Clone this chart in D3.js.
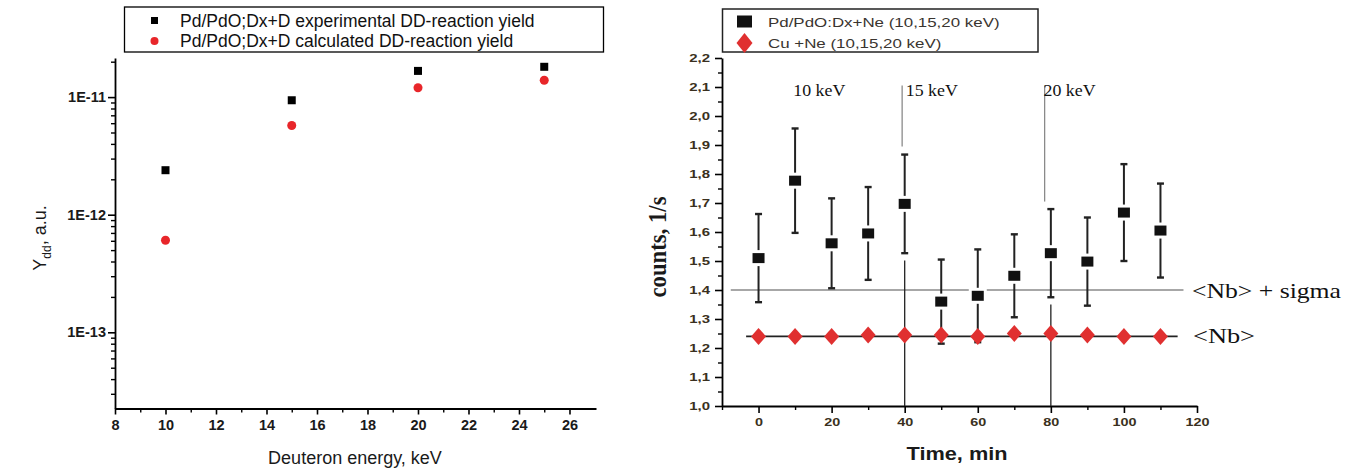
<!DOCTYPE html>
<html>
<head>
<script src="https://cdnjs.cloudflare.com/ajax/libs/d3/7.8.5/d3.min.js"></script>
<style>
  body { margin: 0; background: #fff; }
  svg { display: block; }
  .sans { font-family: "Liberation Sans", Arial, sans-serif; }
  .serif { font-family: "Liberation Serif", "Times New Roman", serif; }
</style>
</head>
<body>
<svg id="chart" width="1367" height="471"></svg>
<script>
// ---- left panel data ----
const energies = [10, 15, 20, 25];
const yieldExp = [2.39e-12, 9.4e-12, 1.67e-11, 1.81e-11];
const yieldCalc = [6.07e-13, 5.74e-12, 1.2e-11, 1.39e-11];
const leftXTicks = [8, 10, 12, 14, 16, 18, 20, 22, 24, 26];
const leftYTicks = [1e-13, 1e-12, 1e-11];
const leftLegend = ["Pd/PdO;Dx+D experimental DD-reaction yield", "Pd/PdO;Dx+D calculated DD-reaction yield"];

// ---- right panel data ----
const times = [0, 10, 20, 30, 40, 50, 60, 70, 80, 90, 100, 110];
const countsPd = [1.51, 1.777, 1.561, 1.595, 1.697, 1.36, 1.38, 1.449, 1.527, 1.498, 1.667, 1.605];
const errPd = [0.152, 0.18, 0.155, 0.16, 0.17, 0.145, 0.16, 0.143, 0.152, 0.152, 0.167, 0.162];
const countsCu = [1.24, 1.24, 1.24, 1.245, 1.245, 1.245, 1.24, 1.25, 1.25, 1.245, 1.24, 1.24];
const rightXTicks = [0, 20, 40, 60, 80, 100, 120];
const rightYTicks = [1.0, 1.1, 1.2, 1.3, 1.4, 1.5, 1.6, 1.7, 1.8, 1.9, 2.0, 2.1, 2.2];
const rightLegend = ["Pd/PdO:Dx+Ne (10,15,20 keV)", "Cu +Ne (10,15,20 keV)"];
const kevLabels = ["10 keV", "15 keV", "20 keV"];
const kevTimes = [9.5, 40.3, 78];
const energyMarks = [40, 80];
const nbMean = 1.24;
const nbSigma = 1.40;

const svg = d3.select("#chart");

// stretch text horizontally (the right panel is wider than its fonts)
function stretch(sel, k) {
  sel.each(function () {
    const w = this.getComputedTextLength();
    d3.select(this).attr("textLength", w * k).attr("lengthAdjust", "spacingAndGlyphs");
  });
}

// ================= LEFT =================
const lx = d3.scaleLinear().domain([8, 27.05]).range([115, 596]);
const ly = d3.scaleLog().domain([2.25e-14, 2.15e-11]).range([408.5, 58]);

const L = svg.append("g").attr("class", "sans");

L.append("g").attr("transform", "translate(0,408.5)")
  .call(d3.axisBottom(lx).tickValues(d3.range(9, 27, 2)).tickSize(4).tickFormat(""))
  .call(g => g.select(".domain").remove())
  .call(g => g.selectAll("line").attr("stroke-width", 1.4));
L.append("g").attr("transform", "translate(0,408.5)")
  .call(d3.axisBottom(lx).tickValues(leftXTicks).tickSize(6).tickSizeOuter(0).tickPadding(5).tickFormat(d3.format("d")))
  .call(g => g.select(".domain").attr("stroke-width", 1.8))
  .call(g => g.selectAll("line").attr("stroke-width", 1.6))
  .call(g => g.selectAll("text").attr("font-size", 14.5).attr("font-weight", "bold").attr("fill", "#1a1a1a"));

const lyMinor = [];
[1e-14, 1e-13, 1e-12, 1e-11].forEach(dec => {
  for (let k = 2; k <= 9; k++) {
    const v = k * dec;
    if (v >= ly.domain()[0] && v <= ly.domain()[1]) lyMinor.push(v);
  }
});
L.append("g").attr("transform", "translate(115,0)")
  .call(d3.axisLeft(ly).tickValues(lyMinor).tickSize(4).tickFormat(""))
  .call(g => g.select(".domain").remove())
  .call(g => g.selectAll("line").attr("stroke-width", 1.4));
L.append("g").attr("transform", "translate(115,0)")
  .call(d3.axisLeft(ly).tickValues(leftYTicks).tickSize(7).tickSizeOuter(0).tickPadding(2)
    .tickFormat(d => "1E" + Math.round(Math.log10(d))))
  .call(g => g.select(".domain").attr("stroke-width", 1.8))
  .call(g => g.selectAll("line").attr("stroke-width", 1.6))
  .call(g => g.selectAll("text").attr("font-size", 14.5).attr("font-weight", "bold").attr("fill", "#1a1a1a"));

L.append("g").selectAll("rect").data(energies).join("rect")
  .attr("x", d => lx(d) - 4).attr("y", (d, i) => ly(yieldExp[i]) - 4)
  .attr("width", 8).attr("height", 8).attr("fill", "#000");
L.append("g").selectAll("circle").data(energies).join("circle")
  .attr("cx", d => lx(d)).attr("cy", (d, i) => ly(yieldCalc[i]))
  .attr("r", 4.5).attr("fill", "#e8262a");

L.append("text").attr("x", 355).attr("y", 464).attr("text-anchor", "middle")
  .attr("font-size", 18).attr("fill", "#1a1a1a").text("Deuteron energy, keV");
const yl = L.append("text").attr("transform", "translate(46,238) rotate(-90)").attr("text-anchor", "middle")
  .attr("font-size", 18).attr("fill", "#1a1a1a");
yl.append("tspan").text("Y");
yl.append("tspan").attr("font-size", 12).attr("dy", 5).text("dd");
yl.append("tspan").attr("dy", -5).text(", a.u.");

const lg = L.append("g");
lg.append("rect").attr("x", 124.5).attr("y", 7).attr("width", 479).attr("height", 45)
  .attr("fill", "#fff").attr("stroke", "#000").attr("stroke-width", 1.3);
leftLegend.forEach((t, i) => {
  const cy = 20.5 + i * 20.5;
  if (i === 0) lg.append("rect").attr("x", 151).attr("y", cy - 3.5).attr("width", 7).attr("height", 7).attr("fill", "#000");
  else lg.append("circle").attr("cx", 154.5).attr("cy", cy).attr("r", 4).attr("fill", "#e8262a");
  lg.append("text").attr("x", 180).attr("y", cy + 6).attr("font-size", 17.5).attr("fill", "#111").text(t);
});

// ================= RIGHT =================
const rx = d3.scaleLinear().domain([-10, 120]).range([722, 1197]);
const ry = d3.scaleLinear().domain([1.0, 2.2]).range([406, 58]);
const R = svg.append("g");
const narrow = "'Liberation Sans', Arial, sans-serif";

R.append("g").attr("transform", "translate(0,406)")
  .call(d3.axisBottom(rx).tickValues([-10].concat(d3.range(10, 120, 20))).tickSize(4).tickFormat(""))
  .call(g => g.select(".domain").remove())
  .call(g => g.selectAll("line").attr("stroke-width", 1.4));
R.append("g").attr("transform", "translate(0,406)")
  .call(d3.axisBottom(rx).tickValues(rightXTicks).tickSize(7).tickSizeOuter(0).tickPadding(5).tickFormat(d3.format("d")))
  .call(g => g.select(".domain").attr("stroke-width", 1.8))
  .call(g => g.selectAll("line").attr("stroke-width", 1.6))
  .call(g => g.selectAll("text").attr("font-size", 11.5).attr("font-weight", "bold").attr("fill", "#3a3020")
    .attr("font-family", narrow).call(stretch, 1.25));

R.append("g").attr("transform", "translate(722,0)")
  .call(d3.axisLeft(ry).tickValues(d3.range(1.05, 2.2, 0.1)).tickSize(4).tickFormat(""))
  .call(g => g.select(".domain").remove())
  .call(g => g.selectAll("line").attr("stroke-width", 1.4));
R.append("g").attr("transform", "translate(722,0)")
  .call(d3.axisLeft(ry).tickValues(rightYTicks).tickSize(7).tickSizeOuter(0).tickPadding(5)
    .tickFormat(d => d3.format(".1f")(d).replace(".", ",")))
  .call(g => g.select(".domain").attr("stroke-width", 1.8))
  .call(g => g.selectAll("line").attr("stroke-width", 1.6))
  .call(g => g.selectAll("text").attr("font-size", 11.5).attr("font-weight", "bold").attr("fill", "#3a3020")
    .attr("font-family", narrow).call(stretch, 1.3));

// reference lines
R.append("line").attr("x1", rx(-7.6)).attr("x2", rx(116.3)).attr("y1", ry(nbSigma)).attr("y2", ry(nbSigma))
  .attr("stroke", "#8a8a8a").attr("stroke-width", 1.3);
R.append("line").attr("x1", rx(-3.4)).attr("x2", rx(114.7)).attr("y1", ry(nbMean)).attr("y2", ry(nbMean))
  .attr("stroke", "#222").attr("stroke-width", 1.8);

// energy pointer lines
R.append("line").attr("x1", rx(39.3)).attr("x2", rx(39.3)).attr("y1", ry(2.105)).attr("y2", ry(1.895))
  .attr("stroke", "#8a8a8a").attr("stroke-width", 1.3);
R.append("line").attr("x1", rx(78.3)).attr("x2", rx(78.3)).attr("y1", ry(2.105)).attr("y2", ry(1.705))
  .attr("stroke", "#8a8a8a").attr("stroke-width", 1.3);
energyMarks.forEach(t => {
  const i = times.indexOf(t);
  R.append("line").attr("x1", rx(t)).attr("x2", rx(t))
    .attr("y1", ry(countsPd[i] - errPd[i] - 0.025)).attr("y2", ry(1.0))
    .attr("stroke", "#222").attr("stroke-width", 1.3);
});

R.append("g").selectAll("text").data(kevLabels).join("text")
  .attr("class", "serif").attr("x", (d, i) => rx(kevTimes[i])).attr("y", 96)
  .attr("font-size", 17).attr("fill", "#111").text(d => d)
  .call(stretch, 1.05);

// error bars
const eb = R.append("g").attr("stroke", "#222").attr("stroke-width", 2);
times.forEach((t, i) => {
  const x = rx(t), top = ry(countsPd[i] + errPd[i]), bot = ry(countsPd[i] - errPd[i]);
  eb.append("line").attr("x1", x).attr("x2", x).attr("y1", top).attr("y2", bot);
  eb.append("line").attr("x1", x - 3.5).attr("x2", x + 3.5).attr("y1", top).attr("y2", top).attr("stroke-width", 2.4);
  eb.append("line").attr("x1", x - 3.5).attr("x2", x + 3.5).attr("y1", bot).attr("y2", bot).attr("stroke-width", 2.4);
});

const diamond = (w, h) => `M0,${-h / 2}L${w / 2},0L0,${h / 2}L${-w / 2},0Z`;
R.append("g").selectAll("path").data(times).join("path")
  .attr("transform", (d, i) => `translate(${rx(d)},${ry(countsCu[i])})`)
  .attr("d", diamond(15, 17)).attr("fill", "#e03030");

R.append("g").selectAll("rect").data(times).join("rect")
  .attr("x", d => rx(d) - 7.5).attr("y", (d, i) => ry(countsPd[i]) - 6.5)
  .attr("width", 15).attr("height", 13).attr("fill", "#111")
  .attr("stroke", "#fff").attr("stroke-width", 3);

// annotations on the right
R.append("text").attr("class", "serif").attr("x", 1192).attr("y", 298)
  .attr("font-size", 22).attr("fill", "#111").attr("textLength", 149).attr("lengthAdjust", "spacingAndGlyphs")
  .text("<Nb> + sigma");
R.append("text").attr("class", "serif").attr("x", 1193).attr("y", 343)
  .attr("font-size", 22).attr("fill", "#111").attr("textLength", 62).attr("lengthAdjust", "spacingAndGlyphs")
  .text("<Nb>");

// axis titles
R.append("text").attr("x", 957).attr("y", 460).attr("text-anchor", "middle")
  .attr("font-size", 19).attr("font-weight", "bold").attr("fill", "#1a1a1a").attr("font-family", narrow)
  .attr("textLength", 101).attr("lengthAdjust", "spacingAndGlyphs")
  .text("Time, min");
R.append("text").attr("class", "serif").attr("transform", "translate(666,247) scale(1.25,1) rotate(-90)")
  .attr("text-anchor", "middle").attr("font-size", 20).attr("font-weight", "bold").attr("fill", "#1a1a1a")
  .attr("textLength", 101).attr("lengthAdjust", "spacingAndGlyphs")
  .text("counts, 1/s");

// legend
const rg = R.append("g");
rg.append("rect").attr("x", 722.5).attr("y", 9).attr("width", 315.5).attr("height", 43)
  .attr("fill", "#fff").attr("stroke", "#222").attr("stroke-width", 1.5);
rg.append("rect").attr("x", 737).attr("y", 15.5).attr("width", 15).attr("height", 12).attr("fill", "#111");
rg.append("path").attr("transform", "translate(744.5,43)").attr("d", diamond(16, 20)).attr("fill", "#e03030");
rg.selectAll("text.leg").data(rightLegend).join("text").attr("class", "sans leg")
  .attr("x", 768).attr("y", (d, i) => 27 + i * 21)
  .attr("font-size", 13).attr("fill", "#3a3530").text(d => d)
  .call(stretch, 1.3);
</script>
</body>
</html>
